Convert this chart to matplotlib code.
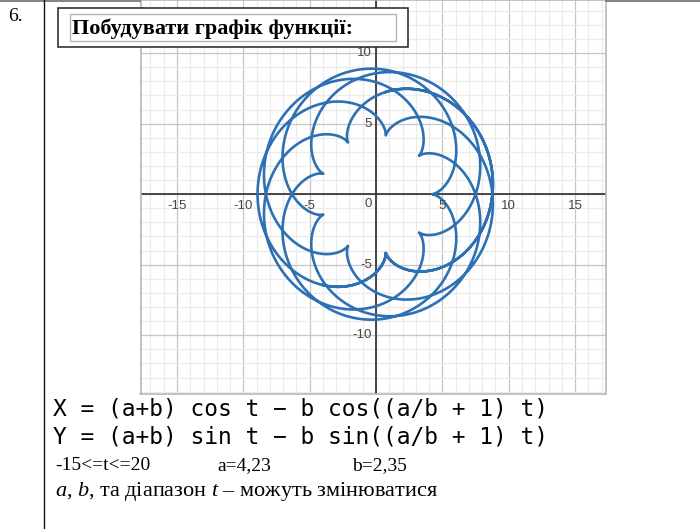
import numpy as np
import matplotlib.pyplot as plt
from matplotlib.ticker import MultipleLocator
from matplotlib.patches import Rectangle

# curve parameters (as printed under the chart)
a = 4.23
b = 2.35
t_min, t_max = -15, 20

x_labels = [-15, -10, -5, 5, 10, 15]
y_labels = [-10, -5, 5, 10]

t = np.linspace(t_min, t_max, 6000)
x = (a + b) * np.cos(t) - b * np.cos((a / b + 1) * t)
y = (a + b) * np.sin(t) - b * np.sin((a / b + 1) * t)

plt.rcParams['mathtext.fontset'] = 'custom'
plt.rcParams['mathtext.rm'] = 'Liberation Serif'
plt.rcParams['mathtext.it'] = 'Liberation Serif:italic'

W, H = 700, 529
fig = plt.figure(figsize=(W / 100, H / 100), dpi=100)


def box(l, top, r, bot):
    return [l / W, 1 - bot / H, (r - l) / W, (bot - top) / H]


# graph
ax = fig.add_axes(box(140.5, 0, 606, 394))
ax.set_xlim(-17.75, 17.33)
ax.set_ylim(-14.17, 13.77)
ax.xaxis.set_major_locator(MultipleLocator(5))
ax.yaxis.set_major_locator(MultipleLocator(5))
ax.xaxis.set_minor_locator(MultipleLocator(1))
ax.yaxis.set_minor_locator(MultipleLocator(1))
ax.grid(which='minor', color='#ebebeb', lw=0.9)
ax.grid(which='major', color='#c6c6c6', lw=0.9)
ax.tick_params(which='both', length=0, labelbottom=False, labelleft=False)
ax.axhline(0, color='#3a3a3a', lw=1.3)
ax.axvline(0, color='#3a3a3a', lw=1.3)
for s in ax.spines.values():
    s.set_color('#b8b8b8')
    s.set_linewidth(1.2)

ax.plot(x, y, color='#2d70b3', lw=1.9, solid_capstyle='round')

lab = dict(fontsize=9.5, color='#444444', family='Liberation Sans')
for v in x_labels:
    ax.annotate(str(v), (v, 0), xytext=(0, -4), textcoords='offset points',
                ha='center', va='top', **lab)
for v in y_labels:
    ax.annotate(str(v), (0, v), xytext=(-3, 0), textcoords='offset points',
                ha='right', va='center', **lab)
ax.annotate('0', (0, 0), xytext=(-3, -3), textcoords='offset points',
            ha='right', va='top', **lab)

# page overlay: table lines, title box, text
ov = fig.add_axes([0, 0, 1, 1], zorder=5)
ov.set_xlim(0, W)
ov.set_ylim(H, 0)
ov.axis('off')
ov.patch.set_alpha(0)

ov.plot([0, 140], [0.6, 0.6], color='#6e6e6e', lw=1.2)
ov.plot([606, W], [0.6, 0.6], color='#6e6e6e', lw=1.2)
ov.plot([43.5, 43.5], [0, H], color='#111111', lw=1.0)

ov.text(8, 21, '6.', family='Liberation Serif', fontsize=14, va='baseline')

ov.add_patch(Rectangle((58, 8), 350, 39, facecolor='white', edgecolor='#222222', lw=1.1))
ov.add_patch(Rectangle((70, 14), 326, 27, facecolor='none', edgecolor='#b4b4b4', lw=1.0))
ov.text(72, 34, 'Побудувати графік функції:', family='Liberation Serif',
        fontweight='bold', fontsize=16, va='baseline')

mono = dict(family='DejaVu Sans Mono', fontsize=16.5, va='baseline')
ov.text(53, 416, 'X = (a+b) cos t − b cos((a/b + 1) t)', **mono)
ov.text(53, 443, 'Y = (a+b) sin t − b sin((a/b + 1) t)', **mono)

serif = dict(family='Liberation Serif', fontsize=14, va='baseline')
ov.text(55, 470, '-15<=t<=20', **serif)
ov.text(217, 470, 'a=4,23', **serif)
ov.text(352, 470, 'b=2,35', **serif)
ov.text(55, 496, r'$a$, $b$, та діапазон $t$ – можуть змінюватися',
        family='Liberation Serif', fontsize=16, va='baseline')

fig.savefig('out.png', dpi=100)
